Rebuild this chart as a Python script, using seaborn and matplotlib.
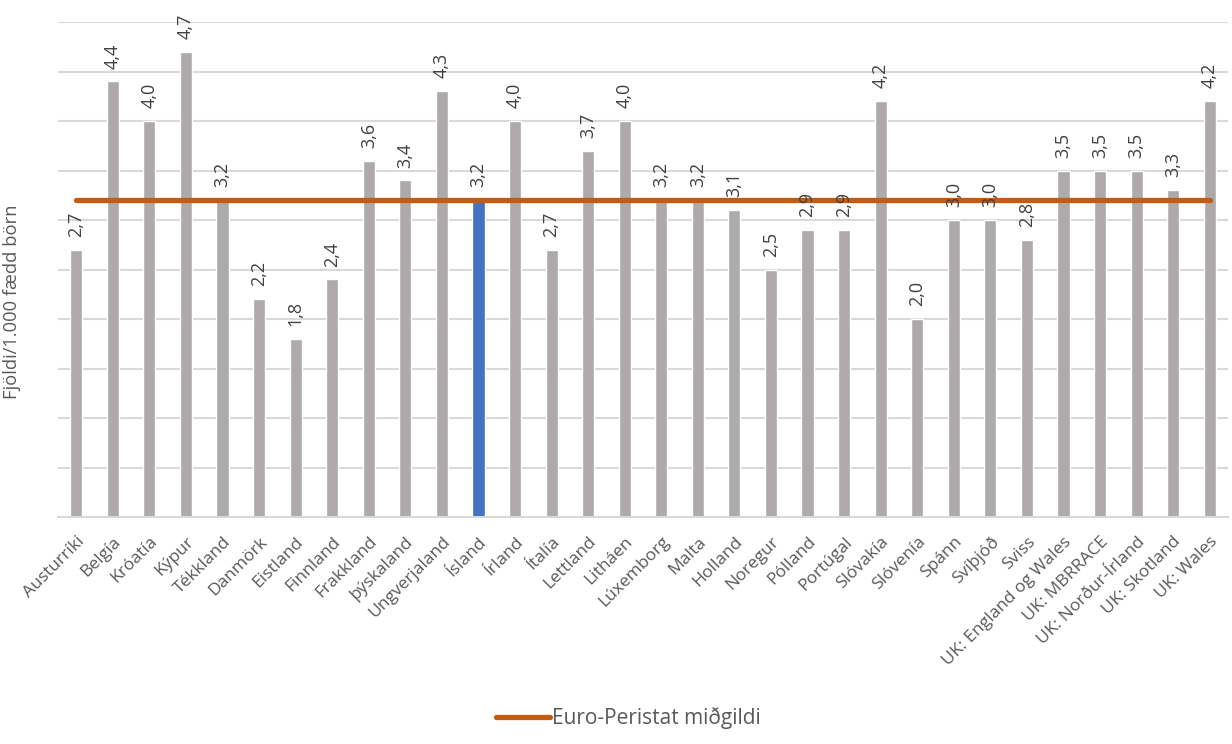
import matplotlib
matplotlib.use("Agg")
import matplotlib.pyplot as plt
import seaborn as sns
import pandas as pd
from matplotlib.lines import Line2D

# Data
countries = [
    "Austurríki", "Belgía", "Króatía", "Kýpur", "Tékkland", "Danmörk", "Eistland",
    "Finnland", "Frakkland", "þýskaland", "Ungverjaland", "Ísland", "Írland", "Ítalía",
    "Lettland", "Litháen", "Lúxemborg", "Malta", "Holland", "Noregur", "Pólland",
    "Portúgal", "Slóvakía", "Slóvenía", "Spánn", "Svíþjóð", "Sviss",
    "UK: England og Wales", "UK: MBRRACE", "UK: Norður-Írland", "UK: Skotland", "UK: Wales",
]
values = [
    2.7, 4.4, 4.0, 4.7, 3.2, 2.2, 1.8,
    2.4, 3.6, 3.4, 4.3, 3.2, 4.0, 2.7,
    3.7, 4.0, 3.2, 3.2, 3.1, 2.5, 2.9,
    2.9, 4.2, 2.0, 3.0, 3.0, 2.8,
    3.5, 3.5, 3.5, 3.3, 4.2,
]
highlight = "Ísland"
median_value = 3.2
median_label = "Euro-Peristat miðgildi"
y_label = "Fjöldi/1.000 fædd börn"

GREY_BAR = "#AEAAAA"
BLUE_BAR = "#4472C4"
ORANGE = "#C55A11"
TEXT = "#595959"
GRID = "#D9D9D9"

sns.set_theme(style="white")
plt.rcParams["font.family"] = ["Open Sans", "DejaVu Sans"]

df = pd.DataFrame({"land": countries, "gildi": values})
df["hópur"] = ["is" if c == highlight else "other" for c in countries]

fig = plt.figure(figsize=(12.32, 7.44), dpi=100)
ax = fig.add_axes([58 / 1232, 1 - 517 / 744, 1170 / 1232, 495 / 744])

sns.barplot(
    data=df, x="land", y="gildi", hue="hópur",
    palette={"is": BLUE_BAR, "other": GREY_BAR},
    width=0.33, dodge=False, legend=False, saturation=1, ax=ax,
)

# Median reference line across all categories
xs = list(range(len(countries)))
ax.plot(xs, [median_value] * len(xs), color=ORANGE, lw=3.8,
        solid_capstyle="round", zorder=3)

# Value labels above bars
for i, v in enumerate(values):
    ax.text(i, v + 0.13, f"{v:.1f}".replace(".", ","), rotation=90,
            ha="center", va="bottom", fontsize=13, color="#404040", zorder=4)

ax.set_ylim(0, 5.0)
ax.set_xlim(-0.5, len(countries) - 0.5)
ax.set_yticks([i * 0.5 for i in range(11)])
ax.set_yticklabels([])
ax.tick_params(axis="y", length=0)
ax.yaxis.grid(True, color=GRID, lw=1.5)
ax.set_axisbelow(True)
for side in ["left", "right", "top"]:
    ax.spines[side].set_visible(False)
ax.spines["bottom"].set_color(GRID)
ax.spines["bottom"].set_linewidth(1.5)

ax.set_xlabel("")
ax.tick_params(axis="x", length=0, pad=12)
plt.setp(ax.get_xticklabels(), rotation=45, ha="right", rotation_mode="anchor",
         fontsize=12.5, color=TEXT)

ax.set_ylabel(y_label, fontsize=13.2, color=TEXT)
ax.yaxis.set_label_coords(-0.032, 0.434)

handle = Line2D([], [], color=ORANGE, lw=3.8, solid_capstyle="round")
fig.legend([handle], [median_label], loc="lower center", bbox_to_anchor=(0.51, -0.005),
           frameon=False, fontsize=15, labelcolor=TEXT, handlelength=2.6,
           handletextpad=0.1)

fig.savefig("out.png", dpi=100)
